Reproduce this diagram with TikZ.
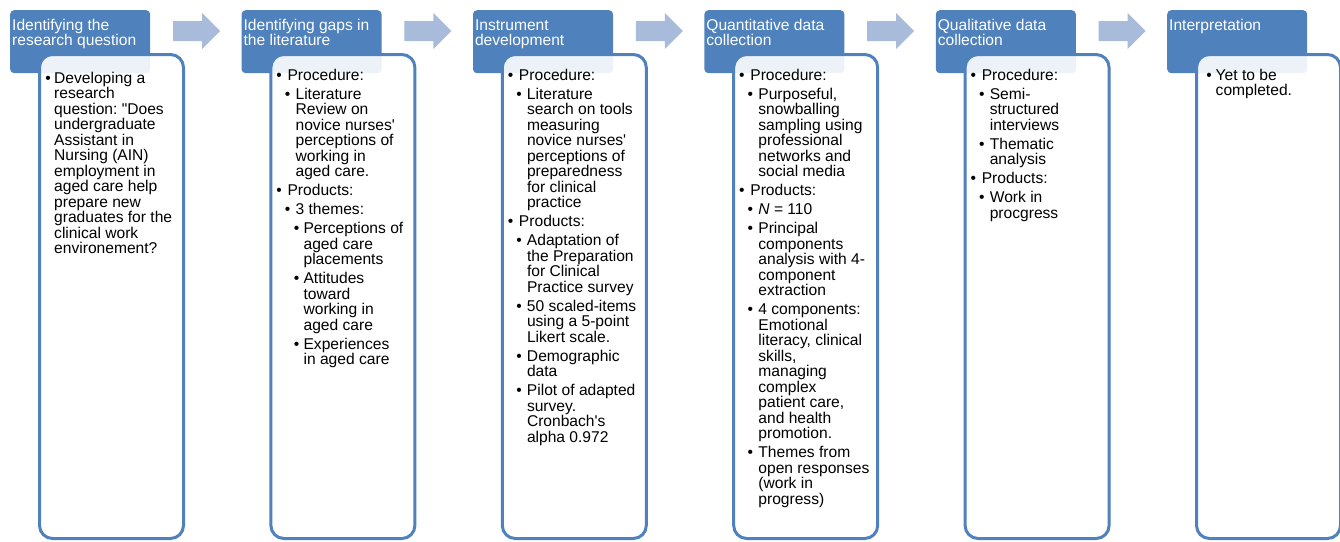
\documentclass[tikz,border=0pt]{standalone}
\usepackage{fontspec}
\setmainfont{Liberation Sans}[Ligatures=TeXOff]
\definecolor{hdrblue}{HTML}{4F81BD}
\definecolor{arrowblue}{RGB}{168,187,218}

% body text: 15.6pt type on a tight 15.5pt line pitch, small gap between items
\newcommand\bodysetup{\fontsize{15.6pt}{15.5pt}\selectfont\frenchspacing\setlength\parskip{3.5pt}\parindent=0pt\rightskip=0pt plus 1fil\relax}
% \bitem{bullet centre}{text start}: one bulleted paragraph with hanging indent
\newcommand\bitem[2]{\par\leftskip=#2pt\relax\noindent\llap{\makebox[0pt]{\textbullet}\hspace{\dimexpr #2pt-#1pt\relax}}}
\newcommand\lone{\bitem{37.5}{46}}
\newcommand\ltwo{\bitem{46}{54}}
\newcommand\lthree{\bitem{55}{62}}

\tikzset{
  header/.style={fill=hdrblue, rounded corners=4pt, minimum width=140pt, minimum height=63pt, anchor=north west, inner sep=0pt},
  panel/.style={draw=hdrblue, line width=3pt, fill=white, fill opacity=0.9, rounded corners=13pt, minimum width=144pt, minimum height=484pt, anchor=north west, inner sep=0pt},
  hdrtext/.style={anchor=base west, inner sep=0pt, text=white},
  bodytext/.style={anchor=base west, inner sep=0pt, text=black},
  flowarrow/.style={fill=arrowblue}
}

\begin{document}
\begin{tikzpicture}[x=1pt,y=-1pt]
\useasboundingbox (0,0) rectangle (1340,541);

% headers, arrows between them, and the white panels beneath
\foreach \i/\xo in {1/10,2/241.4,3/472.8,4/704.2,5/935.6,6/1167}{
  \node[header] (h\i) at (\xo,10) {};
}
\foreach \xo in {10,241.4,472.8,704.2,935.6}{
  \fill[flowarrow] (\xo+163,21) -- (\xo+192,21) -- (\xo+192,13) -- (\xo+210,31)
    -- (\xo+192,49) -- (\xo+192,41) -- (\xo+163,41) -- cycle;
}
\foreach \i/\xo in {1/10,2/241.4,3/472.8,4/704.2,5/935.6,6/1167}{
  \node[panel] (p\i) at (\xo+28,53) {};
}

% header titles
\newcommand\hdr[1]{\parbox[t]{150pt}{\fontsize{15.6pt}{15pt}\selectfont #1}}
\node[hdrtext] (ht1) at (12,30) {\hdr{Identifying the\\research question}};
\node[hdrtext] (ht2) at (243.4,30) {\hdr{Identifying gaps in\\the literature}};
\node[hdrtext] (ht3) at (474.8,30) {\hdr{Instrument\\development}};
\node[hdrtext] (ht4) at (706.2,30) {\hdr{Quantitative data\\collection}};
\node[hdrtext] (ht5) at (937.6,30) {\hdr{Qualitative data\\collection}};
\node[hdrtext] (ht6) at (1169,30) {\hdr{Interpretation}};

% panel contents
\node[bodytext] (b1) at (10,83) {\parbox[t]{200pt}{\bodysetup
  \bitem{38}{44}Developing a\\research\\question: "Does\\undergraduate\\Assistant in\\Nursing (AIN)\\employment in\\aged care help\\prepare new\\graduates for the\\clinical work\\environement?\par}};

\node[bodytext] (b2) at (241.4,80) {\parbox[t]{200pt}{\bodysetup
  \lone Procedure:
  \ltwo Literature\\Review on\\novice nurses'\\perceptions of\\working in\\aged care.
  \lone Products:
  \ltwo 3 themes:
  \lthree Perceptions of\\aged care\\placements
  \lthree Attitudes\\toward\\working in\\aged care
  \lthree Experiences\\in aged care\par}};

\node[bodytext] (b3) at (472.8,80) {\parbox[t]{200pt}{\bodysetup
  \lone Procedure:
  \ltwo Literature\\search on tools\\measuring\\novice nurses'\\perceptions of\\preparedness\\for clinical\\practice
  \lone Products:
  \ltwo Adaptation of\\the Preparation\\for Clinical\\Practice survey
  \ltwo 50 scaled-items\\using a 5-point\\Likert scale.
  \ltwo Demographic\\data
  \ltwo Pilot of adapted\\survey.\\Cronbach's\\alpha 0.972\par}};

\node[bodytext] (b4) at (704.2,80) {\parbox[t]{200pt}{\bodysetup
  \lone Procedure:
  \ltwo Purposeful,\\snowballing\\sampling using\\professional\\networks and\\social media
  \lone Products:
  \ltwo \textit{N} = 110
  \ltwo Principal\\components\\analysis with 4-\\component\\extraction
  \ltwo 4 components:\\Emotional\\literacy, clinical\\skills,\\managing\\complex\\patient care,\\and health\\promotion.
  \ltwo Themes from\\open responses\\(work in\\progress)\par}};

\node[bodytext] (b5) at (935.6,80) {\parbox[t]{200pt}{\bodysetup
  \lone Procedure:
  \ltwo Semi-\\structured\\interviews
  \ltwo Thematic\\analysis
  \lone Products:
  \ltwo Work in\\procgress\par}};

\node[bodytext] (b6) at (1167,80) {\parbox[t]{200pt}{\bodysetup
  \bitem{42}{48.5}Yet to be\\completed.\par}};
\end{tikzpicture}
\end{document}
